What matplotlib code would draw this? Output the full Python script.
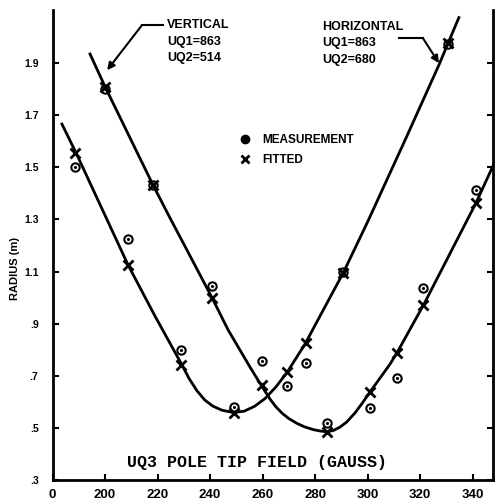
import numpy as np
import matplotlib
matplotlib.use("Agg")
import matplotlib.pyplot as plt
from matplotlib.lines import Line2D

plt.rcParams['font.family'] = ['Liberation Sans', 'DejaVu Sans']
plt.rcParams['font.weight'] = 'bold'

# horizontal plane, UQ1=863 UQ2=680
h_field = [188.6, 208.6, 228.8, 249.0, 269.3, 276.4, 290.7, 330.6]
h_meas = [1.50, 1.225, 0.80, 0.58, 0.66, 0.75, 1.10, 1.975]
h_fit = [1.555, 1.125, 0.742, 0.557, 0.715, 0.826, 1.094, 1.977]

# vertical plane, UQ1=863 UQ2=514
v_field = [200.0, 218.3, 240.8, 259.8, 284.6, 301.1, 311.2, 321.3, 341.3]
v_meas = [1.80, 1.432, 1.045, 0.755, 0.52, 0.575, 0.692, 1.037, 1.413]
v_fit = [1.81, 1.432, 1.0, 0.665, 0.485, 0.638, 0.788, 0.972, 1.363]

# fitted curves
h_curve_x = [183.6, 189.0, 208.8, 219.0, 229.3, 232.0, 235.0, 238.0, 241.0, 244.5,
             248.8, 253.0, 257.0, 261.0, 265.0, 269.3, 276.2, 283.0, 290.7, 300.0,
             315.0, 327.2, 334.8]
h_curve_y = [1.666, 1.555, 1.125, 0.930, 0.742, 0.690, 0.643, 0.607, 0.584, 0.568,
             0.559, 0.564, 0.583, 0.613, 0.656, 0.712, 0.822, 0.950, 1.094, 1.290,
             1.620, 1.893, 2.075]
v_curve_x = [194.3, 200.0, 218.3, 224.8, 231.2, 240.8, 246.9, 255.2, 259.4, 262.9,
             265.0, 267.5, 270.0, 273.0, 276.0, 279.5, 282.0, 284.6, 287.0, 289.5,
             292.0, 295.2, 298.0, 300.95, 308.6, 311.6, 321.5, 341.3, 348.0]
v_curve_y = [1.935, 1.81, 1.432, 1.305, 1.183, 0.999, 0.876, 0.734, 0.665, 0.610,
             0.582, 0.556, 0.536, 0.518, 0.504, 0.493, 0.488, 0.485, 0.490, 0.503,
             0.522, 0.557, 0.595, 0.638, 0.745, 0.795, 0.975, 1.363, 1.51]

x_ticks = [180, 200, 220, 240, 260, 280, 300, 320, 340]
x_labels = ['0', '200', '220', '240', '260', '280', '300', '320', '340']
y_ticks = [0.3, 0.5, 0.7, 0.9, 1.1, 1.3, 1.5, 1.7, 1.9]
y_labels = ['.3', '.5', '.7', '.9', '1.1', '1.3', '1.5', '1.7', '1.9']

fig = plt.figure(figsize=(4.96, 5.04), dpi=100)
ax = fig.add_axes([52.5 / 496, 24 / 504, 440.5 / 496, 470 / 504])

ax.plot(h_curve_x, h_curve_y, 'k-', lw=2)
ax.plot(v_curve_x, v_curve_y, 'k-', lw=2)

for fx, m, f in [(h_field, h_meas, h_fit), (v_field, v_meas, v_fit)]:
    ax.plot(fx, m, 'o', ms=6, mfc='none', mec='k', mew=1.5)
    ax.plot(fx, m, '.', ms=2.5, color='k')
    ax.plot(fx, f, 'x', ms=6.5, mew=2, color='k')

ax.set_xlim(180, 347.8)
ax.set_ylim(0.3, 2.104)
ax.set_xticks(x_ticks)
ax.set_xticklabels(x_labels, fontsize=9.5)
ax.set_yticks(y_ticks)
ax.set_yticklabels(y_labels, fontsize=7.5)
ax.tick_params(direction='in', length=4, width=1.5, right=True, top=False)
ax.tick_params(axis='x', pad=6.5)
ax.tick_params(axis='y', pad=10)
ax.spines['top'].set_visible(False)
for s in ['left', 'right', 'bottom']:
    ax.spines[s].set_linewidth(2)

txt = dict(fontsize=9, fontweight='bold', va='top', ha='left', linespacing=1.5)
ax.text(223.6, 2.068, 'VERTICAL\nUQ1=863\nUQ2=514', **txt)
ax.text(282.7, 2.062, 'HORIZONTAL\nUQ1=863\nUQ2=680', **txt)

arrow = dict(arrowstyle='-|>', color='k', lw=1.5, mutation_scale=11,
             shrinkA=0, shrinkB=0)
ax.plot([214.1, 222.1], [2.046, 2.046], 'k-', lw=1.5, clip_on=False)
ax.annotate('', xy=(200.8, 1.873), xytext=(214.1, 2.046), arrowprops=arrow)
ax.plot([312.0, 321.1], [1.996, 1.996], 'k-', lw=1.5)
ax.annotate('', xy=(327.2, 1.90), xytext=(321.1, 1.996), arrowprops=arrow)

handles = [Line2D([], [], ls='none', marker='o', ms=6, color='k'),
           Line2D([], [], ls='none', marker='x', ms=6, mew=2, color='k')]
ax.legend(handles, ['MEASUREMENT', 'FITTED'], loc='upper left',
          bbox_to_anchor=(0.4234, 0.736), frameon=False, borderpad=0,
          borderaxespad=0, handlelength=1, handletextpad=1.0,
          labelspacing=0.65, prop={'size': 8.5, 'weight': 'bold'})

fig.text(15 / 496, 1 - 268 / 504, 'RADIUS (m)', rotation=90, fontsize=8,
         fontweight='bold', ha='center', va='center')
fig.text(257 / 496, 1 - 462 / 504, 'UQ3 POLE TIP FIELD (GAUSS)',
         family='Liberation Mono', fontsize=12, fontweight='bold',
         ha='center', va='center')

fig.savefig('out.png', dpi=100)
